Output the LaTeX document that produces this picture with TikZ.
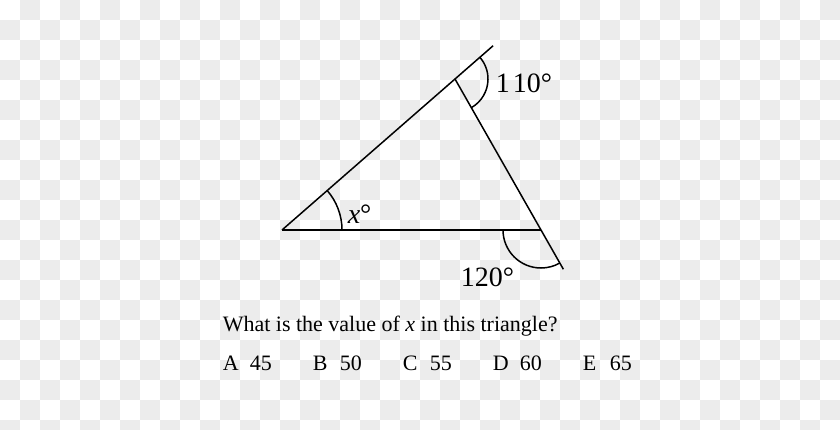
\documentclass[tikz,border=0pt]{standalone}
\usepackage{fontspec}
\setmainfont{Liberation Serif}
\usetikzlibrary{calc,angles}
\definecolor{checkgray}{RGB}{236,236,236}

\begin{document}
\begin{tikzpicture}[x=1pt, y=1pt, line width=1.5pt,
    txt/.style={inner sep=0pt, anchor=base west, font=\fontsize{22}{26}\selectfont},
    lbl/.style={inner sep=0pt, anchor=base west, font=\fontsize{28}{32}\selectfont}]
    \useasboundingbox (0,0) rectangle (840,429);

    % checkerboard background
    \begin{scope}
        \clip (0,0) rectangle (840,429);
        \foreach \i in {0,...,41}
            \foreach \j in {0,...,21} {
                \pgfmathtruncatemacro{\odd}{mod(\i+\j,2)}
                \ifnum\odd=1 \fill[checkgray] (20*\i,429-20*\j) rectangle ++(20,-20); \fi
            }
    \end{scope}

    % triangle
    \coordinate (A) at (282, 199);
    \coordinate (B) at (541, 199);
    \coordinate (C) at (455, 350);
    \coordinate (Cx) at ($(A)!1.22!(C)$);
    \coordinate (Bx) at ($(C)!1.26!(B)$);

    \draw (A) -- (B);
    \draw (A) -- (Cx);
    \draw (C) -- (Bx);

    \pic[draw, angle radius=60pt] {angle = B--A--C};
    \pic[draw, angle radius=33pt] {angle = B--C--Cx};
    \pic[draw, angle radius=38pt] {angle = A--B--Bx};

    \node[lbl] (xlbl) at (347, 206) {\textit{x}\textdegree};
    \node[lbl] (toplbl) at (495, 336) {1\kern3pt 10\textdegree};
    \node[lbl] (botlbl) at (460, 143) {120\textdegree};

    % question and answers
    \node[txt] (question) at (222, 98) {What is the value of \textit{x} in this triangle?};
    \foreach \l/\v [count=\k from 0] in {A/45, B/50, C/55, D/60, E/65} {
        \node[txt] (opt\l) at (222+90*\k, 59) {\l};
        \node[txt] (val\l) at (249+90*\k, 59) {\v};
    }
\end{tikzpicture}
\end{document}
